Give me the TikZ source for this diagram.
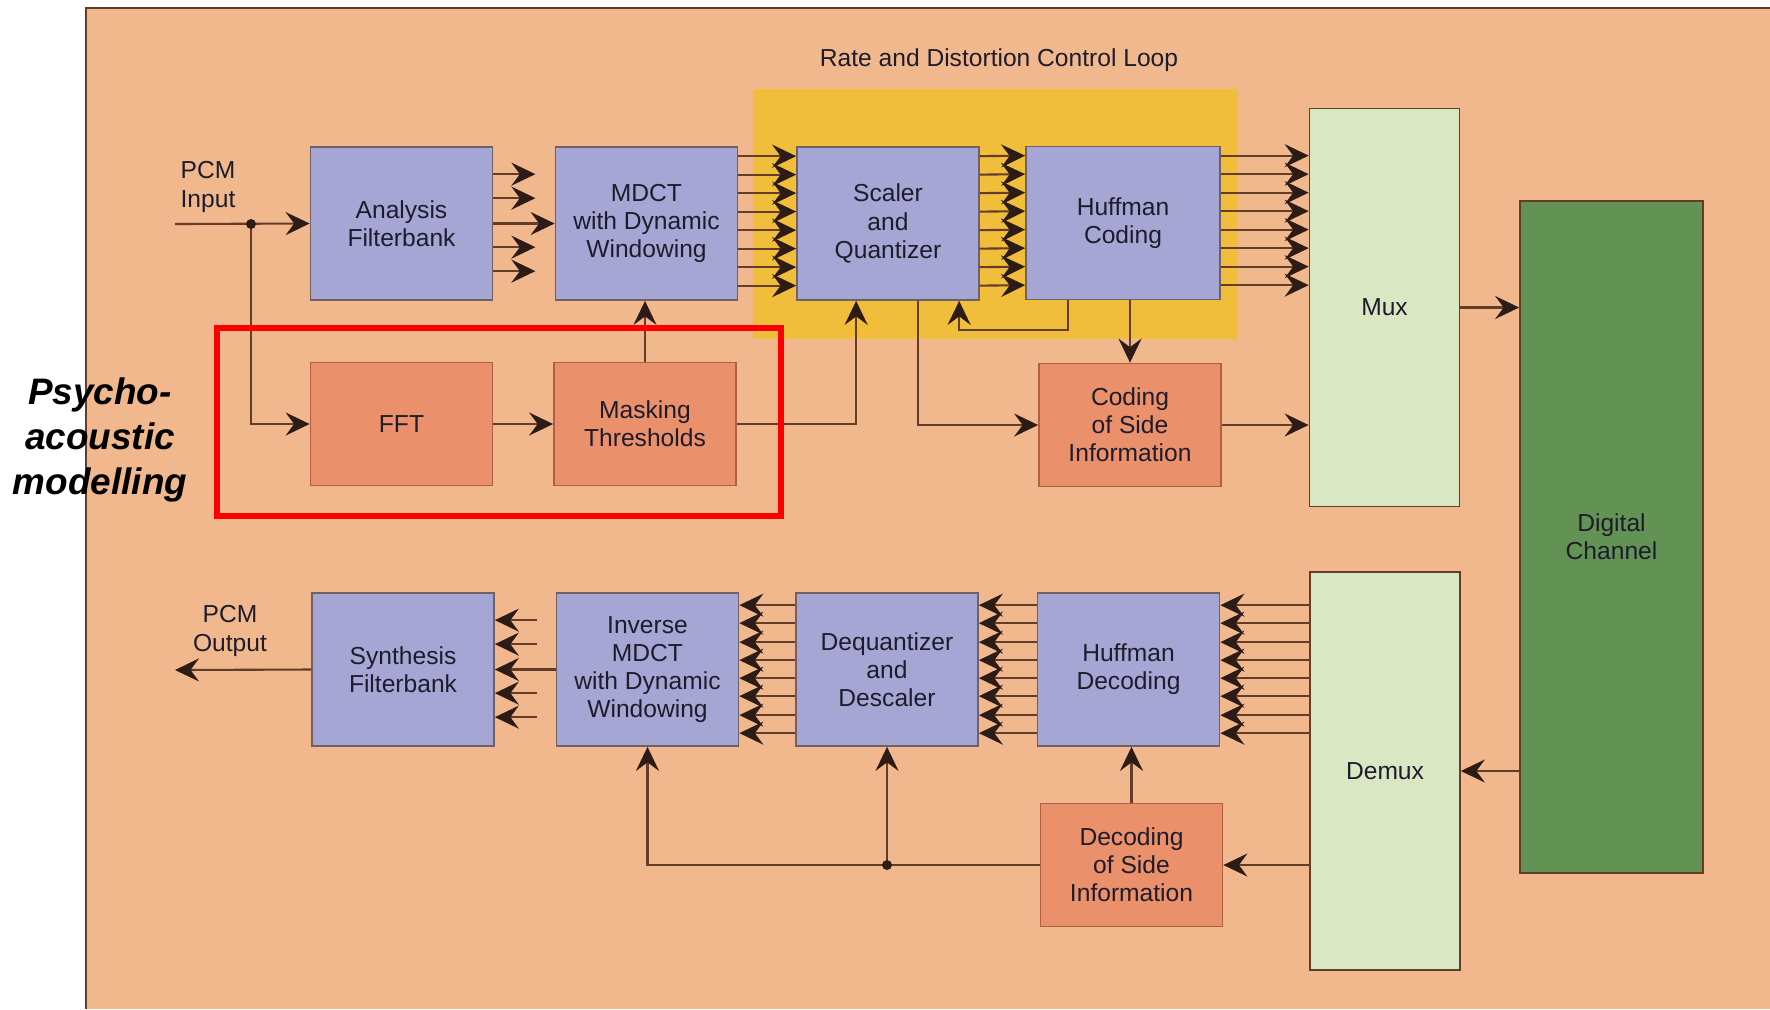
\documentclass[tikz,border=0pt]{standalone}
\usepackage{fontspec}
\setmainfont{Liberation Sans}
\usetikzlibrary{arrows.meta,calc,positioning,backgrounds}
\definecolor{mpgpeach}{RGB}{241,184,142}
\definecolor{mpgblue}{RGB}{166,166,212}
\definecolor{mpgorange}{RGB}{234,144,106}
\definecolor{mpgyellow}{RGB}{240,190,58}
\definecolor{mpgpale}{RGB}{218,231,195}
\definecolor{mpggreen}{RGB}{98,146,84}
\definecolor{mpgline}{RGB}{100,60,42}
\definecolor{mpgtip}{RGB}{45,28,22}
\definecolor{mpgtext}{RGB}{30,28,44}
\definecolor{mpgedge}{RGB}{110,96,100}
\definecolor{mpgoedge}{RGB}{176,96,66}
\definecolor{mpgred}{RGB}{250,0,0}

\begin{document}
\begin{tikzpicture}[
      x=0.02cm, y=-0.02cm,
      blk/.style={draw=mpgedge, line width=1pt, minimum width=3.64cm, minimum height=3.06cm, align=center, inner sep=2pt, text=mpgtext, font=\fontsize{14}{16}\selectfont},
      qmf/.style={blk, fill=mpgblue},
      psy/.style={blk, fill=mpgorange, draw=mpgoedge, minimum height=2.46cm},
      chan/.style={blk, fill=mpgpale, draw=mpgline, minimum width=3cm, minimum height=7.96cm},
      arr/.style={-{Stealth[length=0.48cm, width=0.46cm, inset=0.17cm, color=mpgtip]}, line width=1.2pt, draw=mpgline}
    ]
      \useasboundingbox (0,0) rectangle (1770,1009);

      % 1. Encoder: filterbank and transform
      \node[qmf] (ana) at (401.5,223.5) {Analysis\\Filterbank};
      \node[qmf] (mdct) at (646.5,223.5) {MDCT\\with Dynamic\\Windowing};
      \node[qmf] (quant) at (888,223.5) {Scaler\\and\\Quantizer};
      \node[qmf, minimum width=3.88cm] (huff) at (1123,223) {Huffman\\Coding};

      % 2. Psychoacoustic model
      \node[psy] (fft) at (401.5,424) {FFT};
      \node[psy] (mask) at (645,424) {Masking\\Thresholds};
      \node[psy] (cside) at (1130,425) {Coding\\of Side\\Information};

      % 3. Multiplexing and channel
      \node[chan] (mux) at (1384.5,307.5) {Mux};
      \node[chan, fill=mpggreen, minimum width=3.66cm, minimum height=13.44cm] (chn) at (1611.5,537) {Digital\\Channel};
      \node[chan] (demux) at (1385,771) {Demux};

      % 4. Decoder
      \node[qmf] (synth) at (403,669.5) {Synthesis\\Filterbank};
      \node[qmf] (imdct) at (647.5,669.5) {Inverse\\MDCT\\with Dynamic\\Windowing};
      \node[qmf] (dequant) at (887,669.5) {Dequantizer\\and\\Descaler};
      \node[qmf] (hdec) at (1128.5,669.5) {Huffman\\Decoding};
      \node[psy] (dside) at (1131.5,865) {Decoding\\of Side\\Information};

      % labels
      \node[text=mpgtext, font=\fontsize{14}{16}\selectfont] (loop) at (999,60) {Rate and Distortion Control Loop};
      \node[text=mpgtext, align=center, font=\fontsize{14}{16}\selectfont] (pcmin) at (208,187) {PCM\\Input};
      \node[text=mpgtext, align=center, font=\fontsize{14}{16}\selectfont] (pcmout) at (230,631) {PCM\\Output};
      \node[align=center, font=\fontsize{21}{25.6}\selectfont\bfseries\itshape] (psylbl) at (100,440) {Psycho-\\acoustic\\modelling};

      % sheet and control loop area
      \begin{scope}[on background layer]
        \fill[mpgpeach] (86,8) rectangle (1770,1009);
        \draw[mpgline, line width=1.2pt] (86,1009) -- (86,8) -- (1770,8);
        \fill[mpgyellow] ($(quant.north west)+(-43,-57)$) rectangle ($(huff.south east)+(17,39)$);
      \end{scope}

      % encoder arrows
      \coordinate (inlet) at (175,224);
      \coordinate (split) at (251,224);
      \draw[arr] (inlet) -- (ana.west);
      \draw[arr] (split) |- (fft.west);
      \fill[mpgtip] (split) circle[radius=0.1cm];
      \foreach \d in {28,52,101,125}
        \draw[arr] ($(ana.north east)+(0,\d)$) -- ++(42,0);
      \draw[arr] (ana) -- (mdct);
      \foreach \d in {10,28.5,47,65.5,84,102.5,121,139.5} {
        \draw[arr] ($(mdct.north east)+(0,\d)$) -- ($(quant.north west)+(0,\d)$);
        \draw[arr] ($(quant.north east)+(0,\d)$) -- ($(huff.north west)+(0,\d)$);
        \draw[arr] ($(huff.north east)+(0,\d)$) -- ($(huff.north east -| mux.west)+(0,\d)$);
      }
      \draw[arr] (fft) -- (mask);
      \draw[arr] (mask.north) -- (mask.north |- mdct.south);
      \draw[arr] (mask.east) -| ($(quant.south west)+(60,0)$);
      \draw[arr] ($(quant.south west)+(122,0)$) |- (cside.west);
      \draw[arr] ($(huff.south west)+(43,0)$) -- ++(0,30) -| ($(quant.south west)+(163,0)$);
      \draw[arr] (huff.south -| cside.north) -- (cside.north);
      \draw[arr] (cside.east) -- (cside.east -| mux.west);
      \draw[arr] (mux.east) -- (mux.east -| chn.west);

      % decoder arrows
      \draw[arr] (demux.east -| chn.west) -- (demux.east);
      \draw[arr] (dside.east -| demux.west) -- (dside.east);
      \draw[arr] (dside.north) -- (dside.north |- hdec.south);
      \foreach \d in {13,31,50,68,86,104,123,141} {
        \draw[arr] ($(hdec.north east -| demux.west)+(0,\d)$) -- ($(hdec.north east)+(0,\d)$);
        \draw[arr] ($(hdec.north west)+(0,\d)$) -- ($(dequant.north east)+(0,\d)$);
        \draw[arr] ($(dequant.north west)+(0,\d)$) -- ($(imdct.north east)+(0,\d)$);
      }
      \foreach \d in {28,52,101,125}
        \draw[arr] ($(synth.north east)+(42,\d)$) -- ++(-42,0);
      \draw[arr] (imdct) -- (synth);
      \coordinate (outlet) at (175,670);
      \draw[arr] (synth.west) -- (outlet);
      \coordinate (join) at (dside.west -| dequant.south);
      \draw[mpgline, line width=1.2pt] (dside.west) -- (join);
      \draw[arr] (join) -- (dequant.south);
      \draw[arr] (join) -| (imdct.south);
      \fill[mpgtip] (join) circle[radius=0.1cm];

      % highlight of the psychoacoustic part
      \draw[mpgred, line width=3.4pt] ($(fft.north west)+(-93,-34)$) rectangle ($(mask.south east)+(44,30)$);
    \end{tikzpicture}
\end{document}
